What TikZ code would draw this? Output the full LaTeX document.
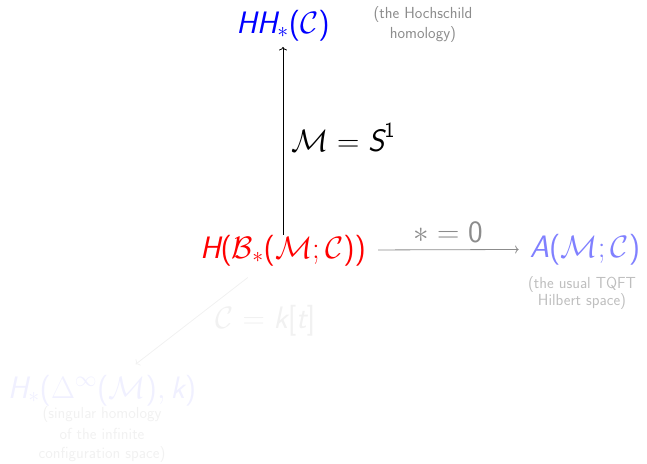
\RequirePackage{fix-cm}
\documentclass[tikz,border=0pt]{standalone}
\usepackage{amsmath}
\usepackage{fontspec}
\usetikzlibrary{arrows.meta}
\renewcommand{\familydefault}{\sfdefault}
\newcommand{\si}[1]{\text{\sffamily\itshape #1}}
\newcommand{\su}[1]{\text{\sffamily #1}}
\definecolor{labgray}{RGB}{140,140,140}
\definecolor{lightlab}{RGB}{190,190,190}
\definecolor{midblue}{RGB}{128,128,255}
\definecolor{faintblue}{RGB}{240,240,255}
\definecolor{faintgray}{RGB}{241,241,241}
\definecolor{arrgray}{RGB}{140,140,140}
\begin{document}
\begin{tikzpicture}[x=1pt,y=1pt,
  big/.style={font=\fontsize{31}{37}\selectfont, inner sep=3pt},
  note/.style={font=\fontsize{16}{#1}\selectfont, align=center, inner sep=0pt},
  note/.default=19,
  arr/.style={-{To[length=3.5pt,width=8pt]}, line width=0.8pt}
]
\useasboundingbox (0,0) rectangle (647,-463);
\node[big, blue, anchor=base] (hh) at (283,-33) {$\si{HH}_*\su{(}\mathcal{C}\su{)}$};
\node[note=20, labgray] (hhlab) at (423,-25) {(the Hochschild\\homology)};
\node[big, red, anchor=base] (hb) at (283,-258) {$\si{H}\su{(}\mathcal{B}_*\su{(}\mathcal{M};\mathcal{C}\su{))}$};
\node[big, midblue, anchor=base] (a) at (585,-257) {$\si{A}\su{(}\mathcal{M};\mathcal{C}\su{)}$};
\node[note=17, lightlab] (alab) at (582,-293.5) {(the usual TQFT\\Hilbert space)};
\node[big, faintblue, anchor=base] (h) at (102,-398) {$\si{H}_*\su{(}\Delta^\infty\su{(}\mathcal{M}\su{)},\si{k}\su{)}$};
\node[note=20, faintgray] (hlab) at (102,-435) {(singular homology\\of the infinite\\configuration space)};
\draw[arr, shorten <=-3pt, shorten >=3pt] (hb) -- node[big, black, midway, right, xshift=5pt] (l1) {$\mathcal{M}=\si{S}^{\su{1}}$} (hh);
\draw[arr, arrgray, shorten <=9pt, shorten >=8pt] (hb) -- node[big, labgray, midway, above, yshift=3pt] (l2) {$*=\su{0}$} (a);
\draw[arr, faintgray, shorten <=14pt, shorten >=12pt] (hb) -- node[big, faintgray, midway, anchor=west, xshift=20pt] (l3) {$\mathcal{C}=\si{k}\su{[}\si{t}\su{]}$} (h);
\end{tikzpicture}
\end{document}
